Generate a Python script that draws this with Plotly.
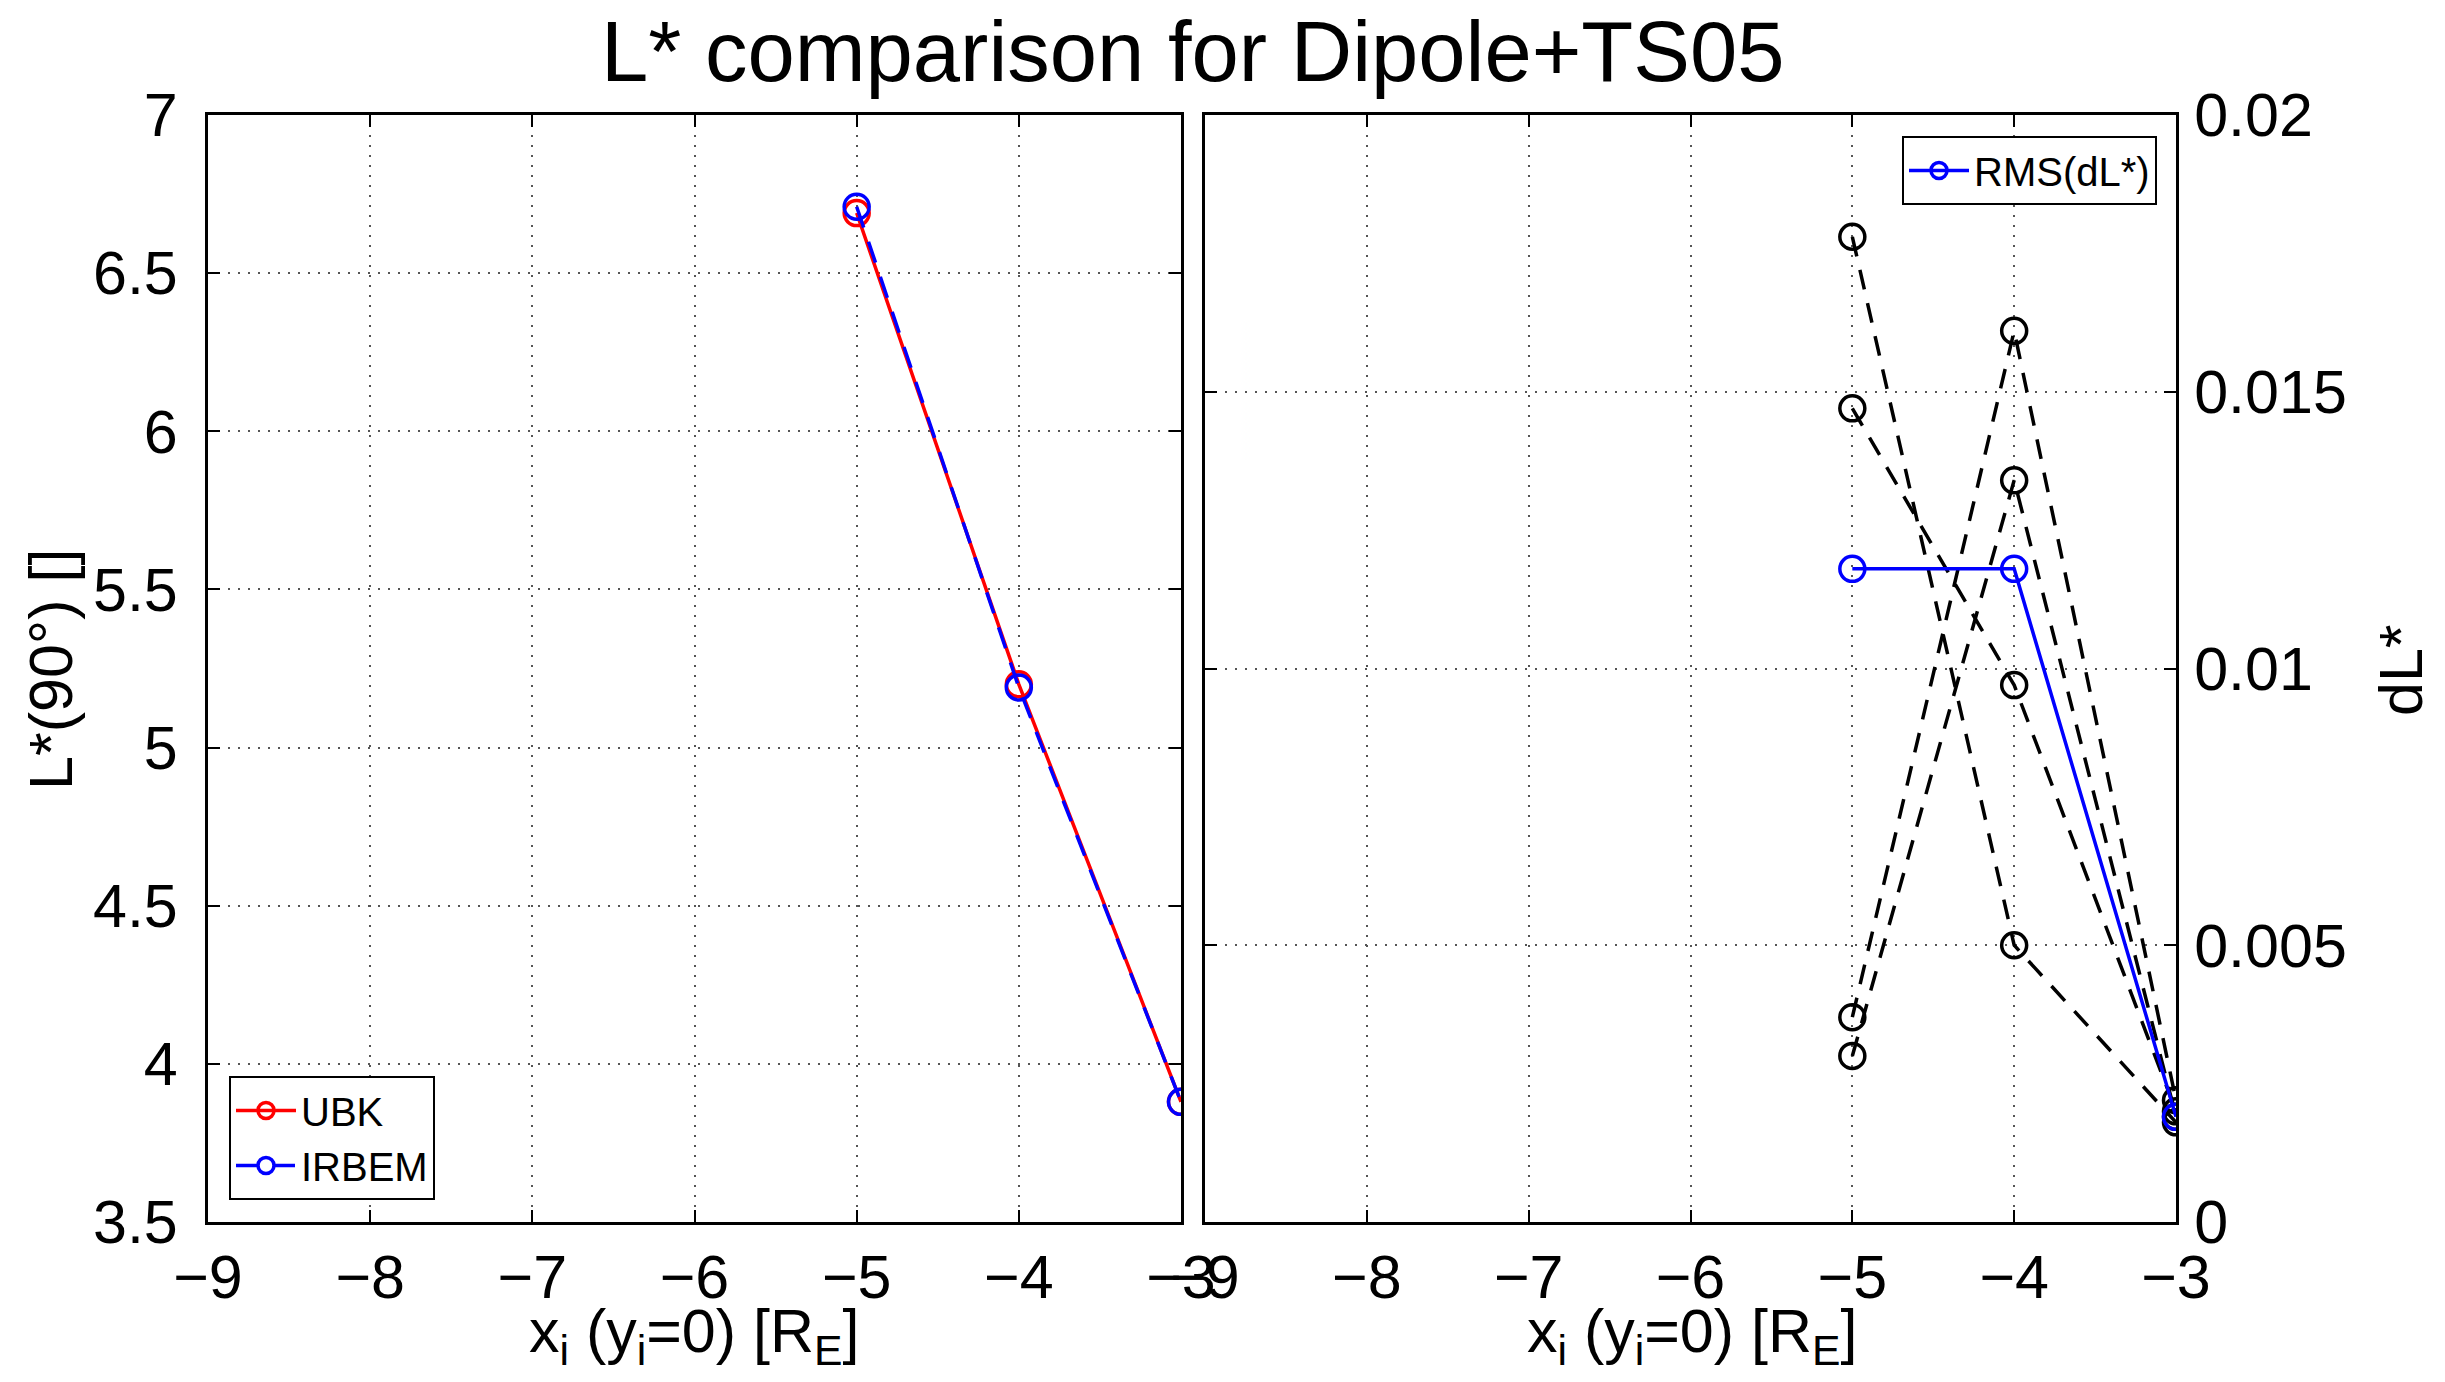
import plotly.graph_objects as go

# ---- data ----
x_pos = [-5, -4, -3]
ubk = [6.69, 5.20, 3.88]
irbem = [6.71, 5.19, 3.88]

dl_series = [
    [0.0178, 0.0050, 0.0018],
    [0.0147, 0.0097, 0.0020],
    [0.0037, 0.0161, 0.0022],
    [0.0030, 0.0134, 0.0019],
]
rms = [0.0118, 0.0118, 0.0019]

x_ticks = [-9, -8, -7, -6, -5, -4, -3]
yl_ticks = [3.5, 4, 4.5, 5, 5.5, 6, 6.5, 7]
yr_ticks = [0, 0.005, 0.01, 0.015, 0.02]

W, H = 2445, 1382
FONT = "Liberation Sans, Arial, Helvetica, sans-serif"

fig = go.Figure()

# left panel
fig.add_trace(go.Scatter(x=x_pos, y=ubk, mode="lines+markers", name="UBK",
                         line=dict(color="#ff0000", width=3.5),
                         marker=dict(symbol="circle-open", size=25, color="#ff0000", line=dict(width=3.5)),
                         xaxis="x", yaxis="y", legend="legend"))
fig.add_trace(go.Scatter(x=x_pos, y=irbem, mode="lines+markers", name="IRBEM",
                         line=dict(color="#0000ff", width=3.5, dash="22px,15px"),
                         marker=dict(symbol="circle-open", size=25, color="#0000ff", line=dict(width=3.5)),
                         xaxis="x", yaxis="y", legend="legend"))

# right panel
for s in dl_series:
    fig.add_trace(go.Scatter(x=x_pos, y=s, mode="lines+markers", showlegend=False,
                             line=dict(color="#000000", width=3.5, dash="20px,14px"),
                             marker=dict(symbol="circle-open", size=25, color="#000000", line=dict(width=3.5)),
                             xaxis="x2", yaxis="y2"))
fig.add_trace(go.Scatter(x=x_pos, y=rms, mode="lines+markers", name="RMS(dL*)",
                         line=dict(color="#0000ff", width=3.5),
                         marker=dict(symbol="circle-open", size=25, color="#0000ff", line=dict(width=3.5)),
                         xaxis="x2", yaxis="y2", legend="legend2"))

x0a, x1a = 208 / W, 1181 / W
x0b, x1b = 1205 / W, 2176 / W
y0, y1 = 1 - 1222 / H, 1 - 115 / H

common = dict(showline=True, linewidth=3, linecolor="black", mirror="ticks",
              ticks="inside", ticklen=12, tickwidth=2, tickcolor="black",
              showgrid=True, gridcolor="#555555", gridwidth=1.5, griddash="2px,8px",
              zeroline=False, automargin=False,
              tickfont=dict(family=FONT, size=61, color="black"))

fig.update_layout(
    width=W, height=H,
    margin=dict(l=0, r=0, t=0, b=0, autoexpand=False),
    paper_bgcolor="white", plot_bgcolor="white",
    font=dict(family=FONT, color="black"),
    xaxis=dict(domain=[x0a, x1a], range=[-9, -3], tickvals=x_ticks, anchor="y",
               ticklabelstandoff=0, **common),
    yaxis=dict(domain=[y0, y1], range=[3.5, 7], tickvals=yl_ticks, anchor="x",
               ticklabelstandoff=15, **common),
    xaxis2=dict(domain=[x0b, x1b], range=[-9, -3], tickvals=x_ticks, anchor="y2",
                ticklabelstandoff=0, **common),
    yaxis2=dict(domain=[y0, y1], range=[0, 0.02], tickvals=yr_ticks, anchor="x2",
                side="right", ticklabelstandoff=3, **common),
    legend=dict(x=229 / W, y=1 - 1200 / H, xanchor="left", yanchor="bottom",
                bordercolor="black", borderwidth=2, bgcolor="white",
                font=dict(family=FONT, size=40, color="black"), itemwidth=60),
    legend2=dict(x=2157 / W, y=1 - 136 / H, xanchor="right", yanchor="top",
                 bordercolor="black", borderwidth=2, bgcolor="white",
                 font=dict(family=FONT, size=40, color="black"), itemwidth=60),
    annotations=[
        dict(text="L* comparison for Dipole+TS05", x=1193 / W, y=1 - 51 / H,
             xref="paper", yref="paper", xanchor="center", yanchor="middle",
             showarrow=False, font=dict(family=FONT, size=85, color="black")),
        dict(text="x<sub>i</sub> (y<sub>i</sub>=0) [R<sub>E</sub>]", x=694 / W, y=1 - 1335 / H,
             xref="paper", yref="paper", xanchor="center", yanchor="middle",
             showarrow=False, font=dict(family=FONT, size=61, color="black")),
        dict(text="x<sub>i</sub> (y<sub>i</sub>=0) [R<sub>E</sub>]", x=1692 / W, y=1 - 1335 / H,
             xref="paper", yref="paper", xanchor="center", yanchor="middle",
             showarrow=False, font=dict(family=FONT, size=61, color="black")),
        dict(text="L*(90°) []", x=51 / W, y=1 - 670 / H, textangle=-90,
             xref="paper", yref="paper", xanchor="center", yanchor="middle",
             showarrow=False, font=dict(family=FONT, size=61, color="black")),
        dict(text="dL*", x=2401 / W, y=1 - 670 / H, textangle=-90,
             xref="paper", yref="paper", xanchor="center", yanchor="middle",
             showarrow=False, font=dict(family=FONT, size=61, color="black")),
    ],
)

fig.write_html("out.html")
